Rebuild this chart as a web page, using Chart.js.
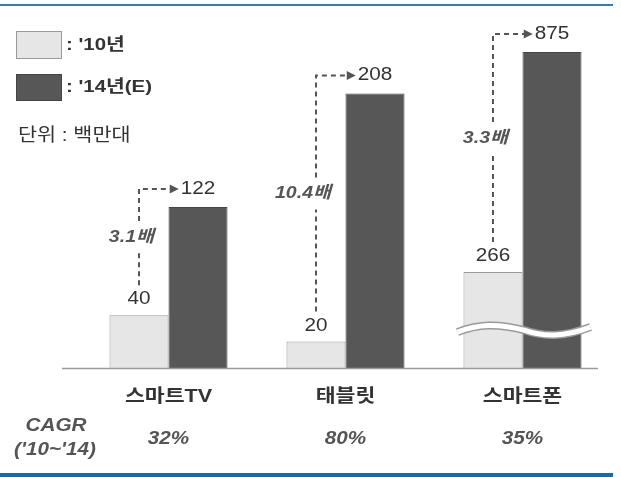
<!DOCTYPE html>
<html lang="ko">
<head>
  <meta charset="UTF-8">
  <title>스마트 기기 판매 전망</title>
  <script src="https://cdn.jsdelivr.net/npm/chart.js"></script>
  <style>
    body { margin: 0; background: #fff; font-family: "Liberation Sans", Arial, "Noto Sans CJK KR", sans-serif; color: #333; }
    .wrap { position: relative; width: 621px; height: 477px; }
    #devChart { position: absolute; left: 0; top: 0; }
    .box { position: absolute; left: 16px; width: 44px; box-sizing: content-box; }
    .lbl { position: absolute; left: 66px; font-size: 17px; font-weight: bold; line-height: 20px; color: #333;
           transform: scaleX(1.2); transform-origin: left center; white-space: nowrap; }
    .unit { position: absolute; left: 18px; top: 124px; font-size: 18px; line-height: 22px; color: #333;
            transform: scaleX(1.15); transform-origin: left center; white-space: nowrap; }
  </style>
</head>
<body>
<div class="wrap">
  <canvas id="devChart" width="621" height="477"></canvas>
  <div class="box" style="top:31px;height:26px;background:#e6e6e6;border:1px solid #9a9a9a;"></div>
  <div class="lbl" id="lbl0" style="top:35px;"></div>
  <div class="box" style="top:74px;height:25px;background:#575757;border:1px solid #454545;"></div>
  <div class="lbl" id="lbl1" style="top:77px;"></div>
  <div class="unit" id="unit"></div>
</div>
<script>
  const categories = ['스마트TV', '태블릿', '스마트폰'];
  const seriesLabels = [": '10년", ": '14년(E)"];
  const values2010 = [40, 20, 266];
  const values2014 = [122, 208, 875];
  const multipliers = ['3.1배', '10.4배', '3.3배'];
  const cagrValues = ['32%', '80%', '35%'];
  const cagrTitle = ['CAGR', "('10~'14)"];
  const unitText = '단위 : 백만대';
  // smartphone bars sit on a compressed axis (broken bars)
  const onBrokenAxis = [false, false, true];
  const breakValue = 105;

  document.getElementById('lbl0').textContent = seriesLabels[0];
  document.getElementById('lbl1').textContent = seriesLabels[1];
  document.getElementById('unit').textContent = unitText;

  const FONT = '"Liberation Sans", Arial, "Noto Sans CJK KR", sans-serif';
  const SX = 1.15; // the source text is a little wider than the font
  const light = { backgroundColor: '#e6e6e6', borderColor: '#9a9a9a' };
  const dark = { backgroundColor: '#575757', borderColor: '#454545' };

  function pick(arr, broken) {
    return arr.map((v, i) => (onBrokenAxis[i] === broken ? v : null));
  }

  const datasets = [
    Object.assign({ label: seriesLabels[0], data: pick(values2010, false), yAxisID: 'y' }, light),
    Object.assign({ label: seriesLabels[1], data: pick(values2014, false), yAxisID: 'y' }, dark),
    Object.assign({ label: seriesLabels[0], data: pick(values2010, true), yAxisID: 'y2' }, light),
    Object.assign({ label: seriesLabels[1], data: pick(values2014, true), yAxisID: 'y2' }, dark)
  ];
  datasets.forEach(d => { d.borderWidth = 1; d.skipNull = true; });

  function barsFor(chart, i) {
    const off = onBrokenAxis[i] ? 2 : 0;
    return [chart.getDatasetMeta(off).data[i], chart.getDatasetMeta(off + 1).data[i]];
  }

  // draws text stretched horizontally, returns its drawn width
  function text(ctx, s, x, y, font, align, sx) {
    ctx.save();
    ctx.font = font;
    ctx.textAlign = align;
    ctx.textBaseline = 'middle';
    ctx.translate(x, y);
    ctx.scale(sx, 1);
    ctx.fillText(s, 0, 0);
    const w = ctx.measureText(s).width * sx;
    ctx.restore();
    return w;
  }

  const annotate = {
    id: 'annotate',
    beforeDraw(chart) {
      const ctx = chart.ctx;
      ctx.save();
      ctx.fillStyle = '#2f7dbd';
      ctx.fillRect(0, 4, 613, 2);
      ctx.fillStyle = '#1b6aa5';
      ctx.fillRect(0, 473, 613, 4);
      ctx.restore();
    },
    afterDatasetsDraw(chart) {
      const ctx = chart.ctx;
      const xs = chart.scales.x, ys = chart.scales.y, y2 = chart.scales.y2;
      const base = ys.getPixelForValue(0);
      ctx.save();

      // baseline
      ctx.strokeStyle = '#9a9a9a';
      ctx.lineWidth = 1.5;
      ctx.beginPath();
      ctx.moveTo(62, base + 0.5);
      ctx.lineTo(598, base + 0.5);
      ctx.stroke();

      // wavy break over the compressed bars
      categories.forEach((c, i) => {
        if (!onBrokenAxis[i]) return;
        const [a, b] = barsFor(chart, i);
        const x0 = a.x - a.width / 2 - 6;
        const w = (b.x + b.width / 2 + 9) - x0;
        const yc = y2.getPixelForValue(breakValue);
        const wave = () => {
          ctx.beginPath();
          ctx.moveTo(x0, yc + 2);
          ctx.bezierCurveTo(x0 + w * 0.15, yc - 6, x0 + w * 0.3, yc - 7, x0 + w * 0.5, yc);
          ctx.bezierCurveTo(x0 + w * 0.65, yc + 7, x0 + w * 0.8, yc + 7, x0 + w, yc - 3);
          ctx.stroke();
        };
        ctx.strokeStyle = '#9a9a9a'; ctx.lineWidth = 8; wave();
        ctx.strokeStyle = '#ffffff'; ctx.lineWidth = 5; wave();
      });

      // value labels and growth arrows
      categories.forEach((c, i) => {
        const [a, b] = barsFor(chart, i);
        const ya = a.y - 16, yb = b.y - 18;
        ctx.fillStyle = '#333';
        text(ctx, String(values2010[i]), a.x, ya, '18px ' + FONT, 'center', SX);
        const tw = text(ctx, String(values2014[i]), b.x, yb, '18px ' + FONT, 'center', SX);
        const tip = b.x - tw / 2 - 2;

        const yTop = yb, yBot = ya - 14, mid = (yTop + yBot) / 2;
        ctx.strokeStyle = '#555';
        ctx.lineWidth = 2;
        ctx.setLineDash([5, 4]);
        ctx.beginPath();
        ctx.moveTo(a.x, yBot); ctx.lineTo(a.x, mid + 16);
        ctx.moveTo(a.x, mid - 16); ctx.lineTo(a.x, yTop);
        ctx.lineTo(tip - 8, yTop);
        ctx.stroke();
        ctx.setLineDash([]);
        ctx.fillStyle = '#555';
        ctx.beginPath();
        ctx.moveTo(tip - 9, yTop - 4.5);
        ctx.lineTo(tip, yTop);
        ctx.lineTo(tip - 9, yTop + 4.5);
        ctx.closePath();
        ctx.fill();

        text(ctx, multipliers[i], a.x + 15, mid, 'italic bold 17px ' + FONT, 'right', SX);

        // category label and CAGR
        const cx = xs.getPixelForValue(i);
        ctx.fillStyle = '#333';
        text(ctx, c, cx, base + 29, 'bold 18px ' + FONT, 'center', 1.2);
        ctx.fillStyle = '#555';
        text(ctx, cagrValues[i], cx, base + 71, 'italic bold 18px ' + FONT, 'center', SX);
      });

      ctx.fillStyle = '#555';
      text(ctx, cagrTitle[0], 56, 426, 'italic bold 18px ' + FONT, 'center', SX);
      text(ctx, cagrTitle[1], 55, 450, 'italic bold 18px ' + FONT, 'center', SX);
      ctx.restore();
    }
  };

  new Chart(document.getElementById('devChart'), {
    type: 'bar',
    data: { labels: categories, datasets: datasets },
    options: {
      responsive: false,
      animation: false,
      devicePixelRatio: 1,
      categoryPercentage: 0.667,
      barPercentage: 1,
      layout: { padding: { top: 38, bottom: 109, left: 80, right: 10 } },
      plugins: { legend: { display: false }, tooltip: { enabled: false } },
      scales: {
        x: { display: false },
        y: { display: false, min: 0, max: 250 },
        y2: { display: false, min: 0, max: 914 }
      }
    },
    plugins: [annotate]
  });
</script>
</body>
</html>
